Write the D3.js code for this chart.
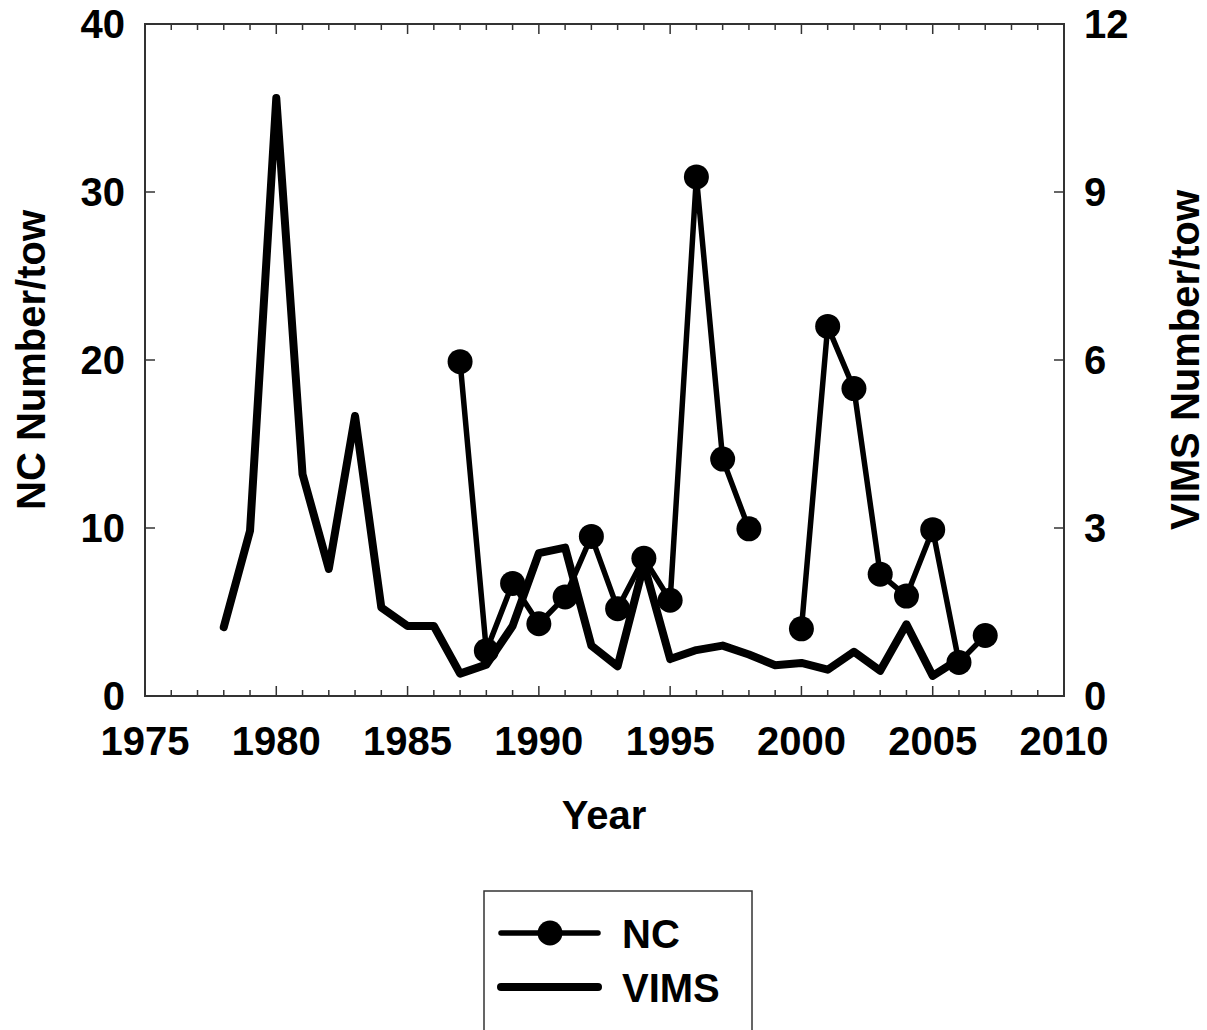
<!DOCTYPE html>
<html><head><meta charset="utf-8">
<script src="https://cdn.jsdelivr.net/npm/d3@7"></script>
<style>
body{margin:0;background:#fff;}
text{font-family:"Liberation Sans",Arial,sans-serif;font-weight:bold;fill:#000;}
</style></head>
<body>
<svg id="c" width="1207" height="1030"></svg>
<script>
const ncYears = [1987,1988,1989,1990,1991,1992,1993,1994,1995,1996,1997,1998,null,2000,2001,2002,2003,2004,2005,2006,2007];
const ncValues = [19.9,2.7,6.7,4.3,5.9,9.5,5.2,8.2,5.7,30.9,14.1,9.95,null,4.0,22.0,18.3,7.25,5.95,9.9,2.0,3.6];
const vimsYears = [1978,1979,1980,1981,1982,1983,1984,1985,1986,1987,1988,1989,1990,1991,1992,1993,1994,1995,1996,1997,1998,1999,2000,2001,2002,2003,2004,2005,2006];
const vimsValues = [1.23,2.95,10.68,3.96,2.27,5.0,1.58,1.25,1.25,0.4,0.56,1.25,2.55,2.65,0.9,0.53,2.35,0.66,0.82,0.9,0.74,0.55,0.59,0.47,0.79,0.45,1.28,0.36,0.66];
const xTickLabels = [1975,1980,1985,1990,1995,2000,2005,2010];
const leftTicks = [0,10,20,30,40];
const rightTicks = [0,3,6,9,12];

const svg = d3.select("#c");
const L=145, R=1064, T=24, B=696;
const x = d3.scaleLinear().domain([1975,2010]).range([L,R]);
const yL = d3.scaleLinear().domain([0,40]).range([B,T]);
const yR = d3.scaleLinear().domain([0,12]).range([B,T]);

// frame
svg.append("rect").attr("x",L).attr("y",T).attr("width",R-L).attr("height",B-T)
  .attr("fill","none").attr("stroke","#333").attr("stroke-width",2);

// x ticks (minor every year, major every 5)
const years = d3.range(1975,2011);
const tk = svg.append("g").attr("stroke","#333").attr("stroke-width",1.5);
years.forEach(yv=>{
  const len = (yv%5===0)?10:6;
  tk.append("line").attr("x1",x(yv)).attr("x2",x(yv)).attr("y1",B).attr("y2",B-len);
  tk.append("line").attr("x1",x(yv)).attr("x2",x(yv)).attr("y1",T).attr("y2",T+len);
});
leftTicks.forEach(v=>{
  tk.append("line").attr("x1",L).attr("x2",L+10).attr("y1",yL(v)).attr("y2",yL(v));
});
rightTicks.forEach(v=>{
  tk.append("line").attr("x1",R).attr("x2",R-10).attr("y1",yR(v)).attr("y2",yR(v));
});

// tick labels
svg.selectAll(".xl").data(xTickLabels).enter().append("text")
  .attr("x",d=>x(d)).attr("y",755).attr("text-anchor","middle").attr("font-size",40).text(d=>d);
svg.selectAll(".yl").data(leftTicks).enter().append("text")
  .attr("x",125).attr("y",d=>yL(d)+14).attr("text-anchor","end").attr("font-size",40).text(d=>d);
svg.selectAll(".yr").data(rightTicks).enter().append("text")
  .attr("x",1084).attr("y",d=>yR(d)+14).attr("text-anchor","start").attr("font-size",40).text(d=>d);

// axis titles
svg.append("text").attr("x",604).attr("y",829).attr("text-anchor","middle").attr("font-size",40).text("Year");
svg.append("text").attr("transform","translate(45,360) rotate(-90)").attr("text-anchor","middle").attr("font-size",40).text("NC Number/tow");
svg.append("text").attr("transform","translate(1199,360) rotate(-90)").attr("text-anchor","middle").attr("font-size",40).text("VIMS Number/tow");

// VIMS line
const vimsData = vimsYears.map((yr,i)=>({x:yr,y:vimsValues[i]}));
svg.append("path").datum(vimsData)
  .attr("d",d3.line().x(d=>x(d.x)).y(d=>yR(d.y)))
  .attr("fill","none").attr("stroke","#000").attr("stroke-width",8)
  .attr("stroke-linejoin","round").attr("stroke-linecap","round");

// NC line
const ncData = ncYears.map((yr,i)=>({x:yr,y:ncValues[i]}));
svg.append("path").datum(ncData)
  .attr("d",d3.line().defined(d=>d.x!==null&&d.y!==null).x(d=>x(d.x)).y(d=>yL(d.y)))
  .attr("fill","none").attr("stroke","#000").attr("stroke-width",5.5)
  .attr("stroke-linejoin","round").attr("stroke-linecap","round");
svg.selectAll(".nc").data(ncData.filter(d=>d.x!==null)).enter().append("circle")
  .attr("cx",d=>x(d.x)).attr("cy",d=>yL(d.y)).attr("r",12.5).attr("fill","#000");

// legend
const lg = svg.append("g");
lg.append("rect").attr("x",484).attr("y",891).attr("width",268).attr("height",160)
  .attr("fill","#fff").attr("stroke","#333").attr("stroke-width",1.5);
lg.append("line").attr("x1",501).attr("x2",598).attr("y1",933).attr("y2",933)
  .attr("stroke","#000").attr("stroke-width",5.5).attr("stroke-linecap","round");
lg.append("circle").attr("cx",550).attr("cy",933).attr("r",12.5).attr("fill","#000");
lg.append("line").attr("x1",501).attr("x2",598).attr("y1",987).attr("y2",987)
  .attr("stroke","#000").attr("stroke-width",8).attr("stroke-linecap","round");
lg.append("text").attr("x",622).attr("y",948).attr("font-size",40).text("NC");
lg.append("text").attr("x",622).attr("y",1002).attr("font-size",40).text("VIMS");
</script>
</body></html>
